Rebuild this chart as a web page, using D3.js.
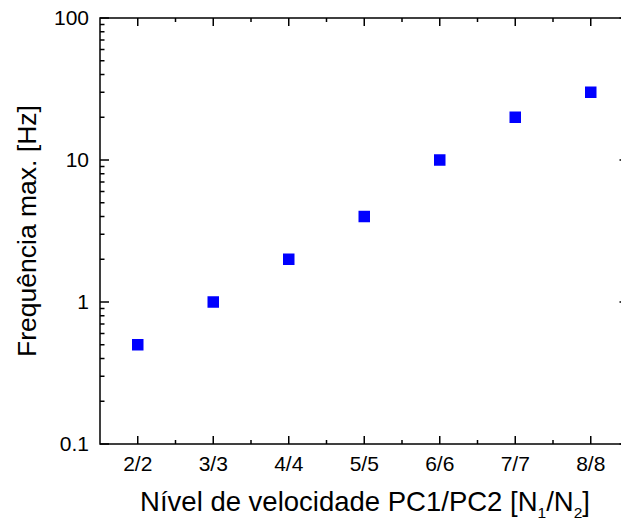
<!DOCTYPE html>
<html>
<head>
<meta charset="utf-8">
<script src="https://cdn.jsdelivr.net/npm/d3@7"></script>
<style>
  html, body { margin: 0; padding: 0; background: #fff; }
  svg { display: block; font-family: "Liberation Sans", Arial, Helvetica, sans-serif; }
</style>
</head>
<body>
<svg id="chart" width="621" height="522"></svg>
<script>
// Speed levels (PC1/PC2) and the maximum frequency reached at each
const levels = ["2/2", "3/3", "4/4", "5/5", "6/6", "7/7", "8/8"];
const maxFreq = [0.5, 1, 2, 4, 10, 20, 30];
const yTickValues = [0.1, 1, 10, 100];
const yTickLabels = ["0.1", "1", "10", "100"];

(function () {
  const svg = d3.select("#chart");
  const pL = 100, pR = 628.5, pT = 18, pB = 444;

  const x = d3.scaleLinear().domain([-0.5, levels.length - 0.5]).range([pL, pR]);
  const y = d3.scaleLog().domain([0.1, 100]).range([pB, pT]);

  // minor ticks: halfway between categories on x, 2..9 per decade on y
  const xMinor = d3.range(levels.length - 1).map(i => i + 0.5);
  const yMinor = [];
  for (let d = 0.1; d < 100; d *= 10) for (let k = 2; k <= 9; k++) yMinor.push(+(d * k).toPrecision(3));

  const g = svg.append("g").attr("stroke", "#000").attr("stroke-width", 1.5).attr("fill", "none");

  // frame
  g.append("rect").attr("x", pL).attr("y", pT).attr("width", pR - pL).attr("height", pB - pT);

  const maj = 8, mnr = 4;
  // x ticks, bottom and top, pointing inward
  levels.forEach((_, i) => {
    const px = x(i);
    g.append("line").attr("x1", px).attr("x2", px).attr("y1", pB).attr("y2", pB - maj);
    g.append("line").attr("x1", px).attr("x2", px).attr("y1", pT).attr("y2", pT + maj);
  });
  xMinor.forEach(v => {
    const px = x(v);
    g.append("line").attr("x1", px).attr("x2", px).attr("y1", pB).attr("y2", pB - mnr);
    g.append("line").attr("x1", px).attr("x2", px).attr("y1", pT).attr("y2", pT + mnr);
  });
  // y ticks, left and right, pointing inward
  yTickValues.forEach(v => {
    const py = y(v);
    g.append("line").attr("x1", pL).attr("x2", pL + 9).attr("y1", py).attr("y2", py);
    g.append("line").attr("x1", pR).attr("x2", pR - 9).attr("y1", py).attr("y2", py);
  });
  yMinor.forEach(v => {
    const py = y(v);
    g.append("line").attr("x1", pL).attr("x2", pL + 4.5).attr("y1", py).attr("y2", py);
    g.append("line").attr("x1", pR).attr("x2", pR - 4.5).attr("y1", py).attr("y2", py);
  });

  // tick labels
  svg.append("g").selectAll("text").data(levels).join("text")
    .attr("x", (d, i) => x(i)).attr("y", 471)
    .attr("text-anchor", "middle").attr("font-size", 21).attr("fill", "#000")
    .text(d => d);

  svg.append("g").selectAll("text").data(yTickValues).join("text")
    .attr("x", 89).attr("y", d => y(d) + 7)
    .attr("text-anchor", "end").attr("font-size", 21).attr("fill", "#000")
    .text((d, i) => yTickLabels[i]);

  // data markers
  const s = 11.5;
  svg.append("g").selectAll("rect").data(maxFreq).join("rect")
    .attr("x", (d, i) => x(i) - s / 2).attr("y", d => y(d) - s / 2)
    .attr("width", s).attr("height", s).attr("fill", "#0000ff");

  // axis titles
  const xt = svg.append("text").attr("x", 365).attr("y", 511)
    .attr("text-anchor", "middle").attr("font-size", 27.5).attr("fill", "#000");
  xt.append("tspan").text("Nível de velocidade PC1/PC2 [N");
  xt.append("tspan").attr("font-size", 15.5).attr("dy", 7).text("1");
  xt.append("tspan").attr("dy", -7).text("/N");
  xt.append("tspan").attr("font-size", 15.5).attr("dy", 7).text("2");
  xt.append("tspan").attr("dy", -7).text("]");

  svg.append("text")
    .attr("transform", `translate(36,${(pT + pB) / 2}) rotate(-90)`)
    .attr("text-anchor", "middle").attr("font-size", 26.5).attr("fill", "#000")
    .text("Frequência max. [Hz]");
})();
</script>
</body>
</html>
